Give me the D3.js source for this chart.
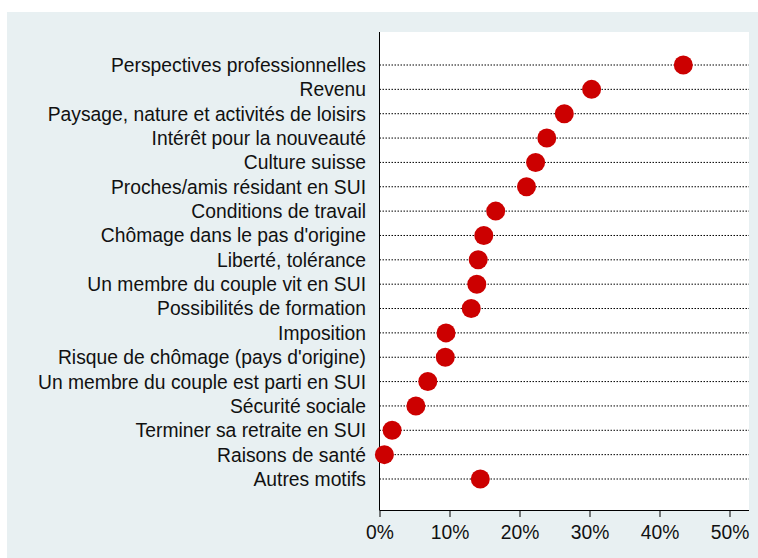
<!DOCTYPE html>
<html>
<head>
<meta charset="utf-8">
<script src="https://cdn.jsdelivr.net/npm/d3@7"></script>
<style>
  body { margin: 0; background: #fff; }
  svg { display: block; font-family: "Liberation Sans", Arial, sans-serif; }
</style>
</head>
<body>
<div id="chart"></div>
<script>
// motifs, de haut en bas
const motifs = [
  "Perspectives professionnelles",
  "Revenu",
  "Paysage, nature et activités de loisirs",
  "Intérêt pour la nouveauté",
  "Culture suisse",
  "Proches/amis résidant en SUI",
  "Conditions de travail",
  "Chômage dans le pas d'origine",
  "Liberté, tolérance",
  "Un membre du couple vit en SUI",
  "Possibilités de formation",
  "Imposition",
  "Risque de chômage (pays d'origine)",
  "Un membre du couple est parti en SUI",
  "Sécurité sociale",
  "Terminer sa retraite en SUI",
  "Raisons de santé",
  "Autres motifs"
];
// part en %
const parts = [43.4, 30.3, 26.4, 23.9, 22.3, 21.0, 16.6, 14.9, 14.1, 13.9, 13.1, 9.5, 9.4, 6.9, 5.2, 1.8, 0.7, 14.4];
const ticks = [0, 10, 20, 30, 40, 50];

const width = 758, height = 558;
const svg = d3.select("#chart").append("svg")
    .attr("width", width).attr("height", height);

// fond gris-bleu
svg.append("rect")
    .attr("x", 7).attr("y", 12)
    .attr("width", width - 7).attr("height", height - 12)
    .attr("fill", "#e8f0f2");

const plot = {left: 379.5, right: 749, top: 32, bottom: 510};

svg.append("rect")
    .attr("x", plot.left).attr("y", plot.top)
    .attr("width", plot.right - plot.left).attr("height", plot.bottom - plot.top)
    .attr("fill", "#fff");

const x = d3.scaleLinear().domain([0, 50]).range([plot.left, 729.5]);
const y = d3.scalePoint().domain(motifs).range([65, 479]);

// lignes pointillées
svg.append("g").selectAll("line")
    .data(motifs)
    .enter().append("line")
    .attr("x1", plot.left).attr("x2", plot.right)
    .attr("y1", d => y(d)).attr("y2", d => y(d))
    .attr("stroke", "#000")
    .attr("stroke-width", 1)
    .attr("stroke-dasharray", "1.5,1.5");

// axe y
svg.append("line")
    .attr("x1", plot.left).attr("x2", plot.left)
    .attr("y1", plot.top).attr("y2", plot.bottom)
    .attr("stroke", "#000");

svg.append("g").selectAll("text")
    .data(motifs)
    .enter().append("text")
    .attr("x", 366)
    .attr("y", d => y(d))
    .attr("dy", "0.36em")
    .attr("text-anchor", "end")
    .attr("font-size", 19.3)
    .attr("fill", "#111")
    .text(d => d);

// axe x
const xAxis = svg.append("g")
    .attr("transform", "translate(0," + plot.bottom + ")")
    .call(d3.axisBottom(x).tickValues(ticks).tickSize(7).tickPadding(8)
        .tickFormat(d => d + "%"));
xAxis.select(".domain").attr("d", "M" + plot.left + ",0.5H" + plot.right);
xAxis.selectAll("text")
    .attr("font-size", 19.3)
    .attr("fill", "#111")
    .attr("font-family", "Liberation Sans, Arial, sans-serif");

// points
svg.append("g").selectAll("circle")
    .data(motifs)
    .enter().append("circle")
    .attr("cx", (d, i) => x(parts[i]))
    .attr("cy", d => y(d))
    .attr("r", 9.5)
    .attr("fill", "#cc0000");
</script>
</body>
</html>
